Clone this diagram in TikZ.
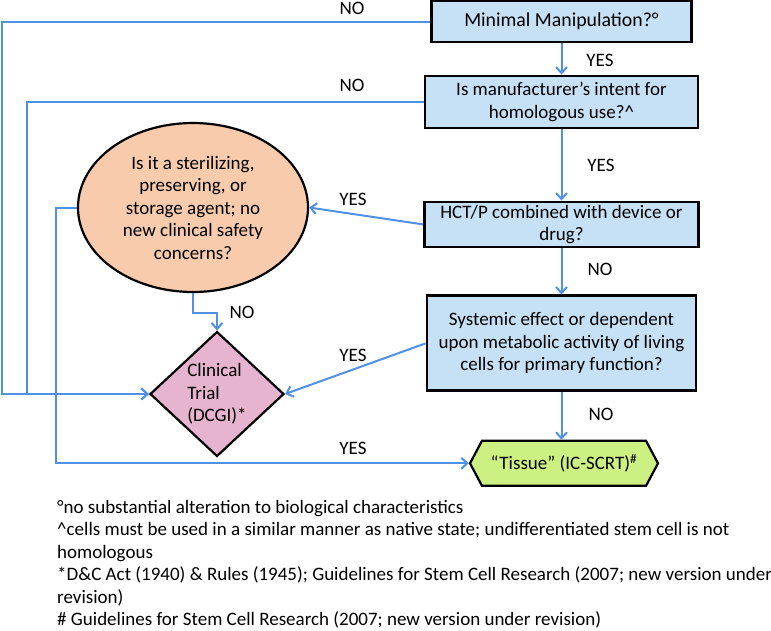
\documentclass[tikz,border=0pt]{standalone}
\usepackage{fontspec}
\setmainfont{Carlito}
\usetikzlibrary{shapes.geometric,shapes.symbols,arrows.meta}
\definecolor{qblue}{RGB}{198,225,246}
\definecolor{peach}{RGB}{248,203,173}
\definecolor{pinkish}{RGB}{230,180,206}
\definecolor{lime}{RGB}{204,240,130}
\definecolor{lineblue}{RGB}{80,145,230}
\begin{document}
\begin{tikzpicture}[x=1pt,y=-1pt,->,>={Straight Barb[length=6pt,width=11pt]},
  every node/.style={font=\fontsize{19}{22.5}\selectfont},
  flow/.style={draw=lineblue,line width=2pt},
  question/.style={rectangle,draw,line width=2.8pt,fill=qblue,align=center,inner sep=0pt},
  agent/.style={ellipse,draw,line width=2.2pt,fill=peach,align=center,inner sep=0pt,minimum width=230pt,minimum height=169pt},
  trial/.style={diamond,draw,line width=2.2pt,fill=pinkish,align=left,inner sep=0pt,aspect=1.07,minimum width=134pt,minimum height=125pt},
  tissue/.style={signal,signal to=west and east,signal pointer angle=124,draw,line width=2.2pt,fill=lime,inner sep=0pt,minimum width=188pt,minimum height=45pt}]
  \useasboundingbox (0,0) rectangle (771,630);
  \node[question,minimum width=260pt,minimum height=41pt,font=\fontsize{19.8}{23}\selectfont] (mm) at (561.5,21.5) {Minimal Manipulation?°};
  \node[question,minimum width=273pt,minimum height=52pt] (hu) [below of=mm,yshift=-52pt] {Is manufacturer’s intent for\\homologous use?\textasciicircum};
  \node[question,minimum width=274pt,minimum height=45pt] (cd) [below of=hu,yshift=-94pt] {HCT/P combined with device or\\drug?};
  \node[question,minimum width=269pt,minimum height=95pt] (se) [below of=cd,yshift=-90.5pt] {Systemic effect or dependent\\upon metabolic activity of living\\cells for primary function?};
  \node[tissue] (ts) [below of=se,yshift=-91.5pt,xshift=2.5pt] {“Tissue” (IC-SCRT)\textsuperscript{\#}};
  \node[agent] (sa) at (193,207.5) {Is it a sterilizing,\\preserving, or\\storage agent; no\\new clinical safety\\concerns?};
  \node[trial] (ct) at (217,394) {Clinical\\Trial\\(DCGI)*};
  \coordinate (e1) at (2,0);
  \coordinate (e2) at (27,0);
  \coordinate (e3) at (56,0);
  \draw[flow] (mm.west) -- (mm.west -| e1) |- (ct.west);
  \draw[flow] (hu.west) -- (hu.west -| e2) |- (ct.west);
  \draw[flow] (sa.west) -- (sa.west -| e3) |- (ts.west);
  \draw[flow] (mm) -- (hu);
  \draw[flow] (hu) -- (cd);
  \draw[flow] (cd) -- (se);
  \draw[flow] (se.south) -- (se.south |- ts.north);
  \draw[flow] (cd.west) -- (sa.east);
  \draw[flow] (se.west) -- (ct.east);
  \draw[flow] (sa.south) -- ++(0,20) -| (ct.north);
  \node (no1) at (352,8) {NO};
  \node (no2) at (352,85) {NO};
  \node (yes1) at (600,60) {YES};
  \node (yes2) at (601,165) {YES};
  \node (yes3) at (353,199) {YES};
  \node (no3) at (600,269) {NO};
  \node (yes4) at (353,355) {YES};
  \node (no4) at (601,414) {NO};
  \node (no5) at (242,312) {NO};
  \node (yes5) at (353,448) {YES};
  \node[anchor=north west,inner sep=0pt,align=left] (notes) at (57,500) {°no substantial alteration to biological characteristics\\\textasciicircum cells must be used in a similar manner as native state; undifferentiated stem cell is not\\homologous\\*D\&C Act (1940) \& Rules (1945); Guidelines for Stem Cell Research (2007; new version under\\revision)\\\# Guidelines for Stem Cell Research (2007; new version under revision)};
\end{tikzpicture}
\end{document}
